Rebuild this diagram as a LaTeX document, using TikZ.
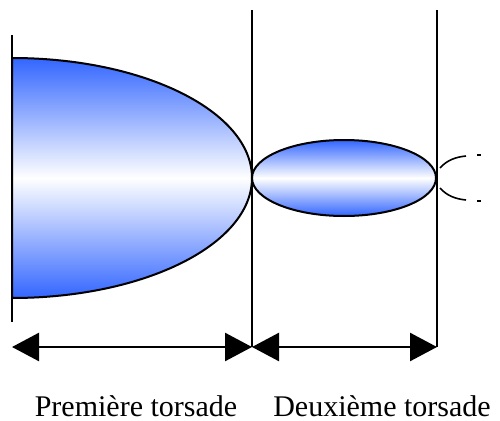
\documentclass[tikz,border=0pt]{standalone}
\usepackage{fontspec}
\setmainfont{Liberation Serif}
\usetikzlibrary{arrows.meta,shapes.geometric}
\definecolor{lobeblue}{RGB}{51,102,255}
\tikzset{
  lobe/.style={draw=black,line width=2pt,top color=lobeblue,bottom color=lobeblue,middle color=white},
  wall/.style={line width=1.6pt},
  span/.style={line width=2.6pt,{Triangle[length=27pt,width=28pt]}-{Triangle[length=27pt,width=28pt]}},
  ghost/.style={line width=1.6pt},
  caption/.style={anchor=base,font=\fontsize{30}{34}\selectfont,inner sep=0pt}
}
\begin{document}
\begin{tikzpicture}[x=1pt,y=-1pt]
\useasboundingbox (0,0) rectangle (500,420);
% big half lobe
\path[lobe] (12,58) arc[start angle=-90,end angle=90,x radius=240,y radius=120] -- cycle;
% small lobe
\node[ellipse,lobe,minimum width=184pt,minimum height=76pt,inner sep=0pt] (e2) at (344,178) {};
% walls
\coordinate (w1t) at (12,35);  \coordinate (w1b) at (12,322);
\coordinate (w2t) at (252,10); \coordinate (w2b) at (252,347);
\coordinate (w3t) at (437,10); \coordinate (w3b) at (437,347);
\draw[wall] (w1t) -- (w1b);
\draw[wall] (w2t) -- (w2b);
\draw[wall] (w3t) -- (w3b);
% arrows
\coordinate (a1) at (12,347);
\draw[span] (a1) -- (w2b);
\draw[span] (w2b) -- (w3b);
% next lobe hint
\coordinate (g1) at (440,168); \coordinate (g2) at (466,156);
\coordinate (g3) at (440,188); \coordinate (g4) at (466,200);
\draw[ghost] (g1) .. controls (447,160) and (456,157) .. (g2);
\draw[ghost] (g3) .. controls (447,196) and (456,199) .. (g4);
\coordinate (d1) at (477,155); \coordinate (d2) at (481,155);
\coordinate (d3) at (477,201); \coordinate (d4) at (481,201);
\draw[ghost] (d1) -- (d2);
\draw[ghost] (d3) -- (d4);
% captions
\node[caption] (c1) at (136,416) {Première torsade};
\node[caption] (c2) at (382,416) {Deuxième torsade};
\end{tikzpicture}
\end{document}
